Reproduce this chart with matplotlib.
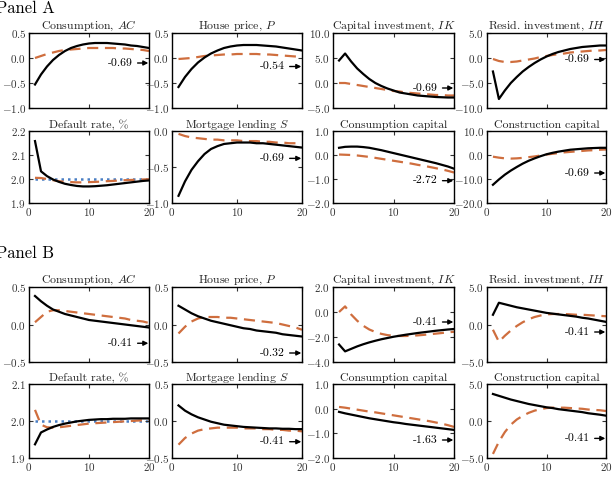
import numpy as np
import matplotlib
matplotlib.use("Agg")
import matplotlib.pyplot as plt
from matplotlib.ticker import FuncFormatter, FixedLocator

plt.rcParams['font.family'] = ['cmr10', 'DejaVu Serif']
plt.rcParams['mathtext.fontset'] = 'cm'
plt.rcParams['axes.unicode_minus'] = False

periods = list(range(1, 21))

titles = ["Consumption, $AC$", "House price, $P$", "Capital investment, $IK$",
          "Resid. investment, $IH$", "Default rate, %", "Mortgage lending $S$",
          "Consumption capital", "Construction capital"]

# ---------------- Panel A ----------------
a_solid = [
    [-0.53,-0.33,-0.17,-0.04,0.06,0.14,0.2,0.24,0.27,0.29,0.3,0.3,0.3,0.29,0.28,0.27,0.25,0.24,0.22,0.2],
    [-0.58,-0.38,-0.22,-0.09,0.01,0.09,0.15,0.2,0.23,0.25,0.26,0.26,0.26,0.25,0.24,0.23,0.21,0.19,0.17,0.15],
    [4.5,5.9,4.3,2.9,1.8,0.8,0.0,-0.6,-1.1,-1.5,-1.9,-2.1,-2.3,-2.5,-2.6,-2.7,-2.8,-2.85,-2.9,-2.9],
    [-2.7,-8.2,-6.5,-5.0,-3.8,-2.7,-1.8,-1.0,-0.3,0.3,0.8,1.2,1.5,1.8,2.0,2.2,2.3,2.4,2.5,2.5],
    [2.158,2.032,2.012,1.998,1.988,1.98,1.975,1.971,1.969,1.969,1.97,1.972,1.974,1.977,1.98,1.983,1.986,1.989,1.992,1.994],
    [-0.9,-0.7,-0.54,-0.42,-0.32,-0.25,-0.21,-0.18,-0.17,-0.16,-0.16,-0.16,-0.17,-0.17,-0.18,-0.19,-0.2,-0.21,-0.22,-0.23],
    [0.3,0.34,0.35,0.35,0.33,0.3,0.25,0.2,0.14,0.08,0.02,-0.04,-0.1,-0.16,-0.22,-0.28,-0.34,-0.41,-0.48,-0.57],
    [-12.4,-10.2,-8.2,-6.5,-5.0,-3.6,-2.4,-1.4,-0.5,0.3,0.9,1.4,1.8,2.2,2.4,2.6,2.8,2.9,3.0,3.0],
]
a_dashed = [
    [0.0,0.04,0.08,0.11,0.14,0.16,0.17,0.18,0.19,0.2,0.2,0.2,0.2,0.2,0.19,0.19,0.18,0.17,0.16,0.14],
    [-0.02,-0.01,0.0,0.02,0.04,0.05,0.06,0.07,0.07,0.08,0.08,0.08,0.08,0.07,0.07,0.06,0.05,0.04,0.03,0.02],
    [0.0,0.0,-0.2,-0.4,-0.6,-0.8,-1.0,-1.2,-1.4,-1.6,-1.7,-1.9,-2.0,-2.1,-2.2,-2.3,-2.4,-2.4,-2.5,-2.5],
    [-0.2,-0.6,-0.8,-0.8,-0.7,-0.5,-0.3,-0.1,0.2,0.4,0.6,0.8,0.9,1.1,1.2,1.3,1.4,1.5,1.5,1.6],
    [2.005,2.004,2.0,1.995,1.991,1.988,1.987,1.986,1.986,1.987,1.988,1.989,1.991,1.992,1.994,1.995,1.996,1.997,1.998,1.999],
    [-0.04,-0.07,-0.09,-0.1,-0.11,-0.12,-0.12,-0.13,-0.13,-0.13,-0.14,-0.14,-0.14,-0.15,-0.15,-0.16,-0.16,-0.17,-0.17,-0.18],
    [0.02,0.01,0.0,-0.02,-0.05,-0.08,-0.12,-0.16,-0.2,-0.24,-0.28,-0.32,-0.36,-0.41,-0.45,-0.5,-0.55,-0.6,-0.66,-0.73],
    [-0.7,-1.1,-1.4,-1.5,-1.4,-1.2,-0.9,-0.6,-0.2,0.2,0.5,0.8,1.1,1.3,1.5,1.7,1.9,2.0,2.2,2.3],
]
a_labels = ["-0.69", "-0.54", "-0.69", "-0.69", None, "-0.69", "-2.72", "-0.69"]
a_label_y = [-0.1, -0.17, -1.0, -0.3, None, -0.38, -1.07, -7.5]
a_ylims = [(-1.0, 0.5), (-1.0, 0.5), (-5, 10), (-10, 5), (1.9, 2.2), (-1.0, 0.0), (-2.0, 1.0), (-20, 10)]
a_yticks = [[-1.0, -0.5, 0.0, 0.5], [-1.0, -0.5, 0.0, 0.5], [-5, 0, 5, 10], [-10, -5, 0, 5],
            [1.9, 2.0, 2.1, 2.2], [-1.0, -0.5, 0.0], [-2, -1, 0, 1], [-20, -10, 0, 10]]

# ---------------- Panel B ----------------
b_solid = [
    [0.38,0.31,0.25,0.2,0.17,0.14,0.12,0.1,0.08,0.06,0.05,0.04,0.03,0.02,0.01,0.0,-0.01,-0.02,-0.03,-0.04],
    [0.25,0.2,0.15,0.11,0.08,0.05,0.03,0.01,-0.01,-0.03,-0.05,-0.06,-0.08,-0.09,-0.1,-0.11,-0.13,-0.14,-0.15,-0.16],
    [-2.6,-3.15,-2.95,-2.75,-2.58,-2.43,-2.3,-2.18,-2.08,-1.98,-1.9,-1.82,-1.75,-1.68,-1.62,-1.56,-1.5,-1.45,-1.4,-1.36],
    [1.3,2.9,2.7,2.5,2.3,2.15,2.0,1.85,1.7,1.55,1.45,1.35,1.25,1.15,1.05,0.9,0.8,0.65,0.5,0.35],
    [1.937,1.969,1.977,1.984,1.989,1.993,1.996,1.999,2.001,2.003,2.004,2.005,2.005,2.006,2.006,2.006,2.007,2.007,2.007,2.007],
    [0.21,0.14,0.09,0.05,0.02,-0.01,-0.03,-0.05,-0.06,-0.07,-0.08,-0.085,-0.09,-0.095,-0.1,-0.1,-0.105,-0.105,-0.11,-0.11],
    [-0.13,-0.19,-0.24,-0.29,-0.34,-0.39,-0.43,-0.47,-0.51,-0.55,-0.58,-0.62,-0.65,-0.68,-0.71,-0.74,-0.77,-0.8,-0.83,-0.86],
    [3.65,3.4,3.15,2.9,2.7,2.5,2.3,2.15,2.0,1.85,1.75,1.6,1.5,1.4,1.3,1.2,1.05,0.95,0.85,0.72],
]
b_dashed = [
    [0.03,0.1,0.17,0.19,0.19,0.18,0.17,0.16,0.15,0.14,0.13,0.12,0.11,0.1,0.09,0.08,0.06,0.05,0.04,0.02],
    [-0.12,-0.03,0.04,0.08,0.1,0.1,0.1,0.09,0.09,0.08,0.07,0.06,0.05,0.04,0.03,0.02,0.0,-0.02,-0.04,-0.07],
    [0.0,0.45,-0.2,-0.7,-1.1,-1.4,-1.6,-1.75,-1.85,-1.9,-1.92,-1.92,-1.9,-1.87,-1.83,-1.78,-1.73,-1.68,-1.63,-1.58],
    [-0.7,-2.3,-1.5,-0.8,-0.2,0.3,0.7,1.0,1.2,1.35,1.4,1.4,1.4,1.35,1.3,1.3,1.25,1.2,1.15,1.1],
    [2.03,1.99,1.983,1.982,1.983,1.985,1.987,1.989,1.991,1.993,1.994,1.995,1.996,1.997,1.998,1.999,2.0,2.001,2.002,2.003],
    [-0.32,-0.23,-0.17,-0.13,-0.11,-0.1,-0.09,-0.09,-0.09,-0.09,-0.1,-0.1,-0.1,-0.11,-0.11,-0.12,-0.12,-0.13,-0.13,-0.14],
    [0.07,0.04,0.0,-0.04,-0.08,-0.12,-0.15,-0.19,-0.23,-0.27,-0.31,-0.35,-0.39,-0.43,-0.47,-0.51,-0.56,-0.61,-0.67,-0.74],
    [-4.45,-2.8,-1.5,-0.5,0.2,0.7,1.1,1.4,1.6,1.75,1.8,1.8,1.8,1.75,1.7,1.65,1.55,1.5,1.45,1.35],
]
b_labels = ["-0.41", "-0.32", "-0.41", "-0.41", None, "-0.41", "-1.63", "-0.41"]
b_label_y = [-0.25, -0.38, -0.8, -1.0, None, -0.28, -1.27, -2.35]
b_ylims = [(-0.5, 0.5), (-0.5, 0.5), (-4, 2), (-5, 5), (1.9, 2.1), (-0.5, 0.5), (-2.0, 1.0), (-5, 5)]
b_yticks = [[-0.5, 0.0, 0.5], [-0.5, 0.0, 0.5], [-4, -2, 0, 2], [-5, 0, 5],
            [1.9, 2.0, 2.1], [-0.5, 0.0, 0.5], [-2, -1, 0, 1], [-5, 0, 5]]

steady_default = 2.0

ORANGE = "#cf6e3e"
BLUE = "#4a7fc4"

W, H = 614, 483
fig = plt.figure(figsize=(W / 100, H / 100), dpi=100)

cols = [(29, 149), (172, 302), (333, 454), (487, 606)]
rows_A = [(33, 108), (131, 203)]
rows_B = [(287, 362), (384, 458)]


def fmt(v, pos):
    s = f"{v:.1f}"
    return f"${s}$"


def make_panel(rows, solid, dashed, labels, label_y, ylims, yticks):
    for i in range(8):
        r, c = divmod(i, 4)
        x0, x1 = cols[c]
        y0, y1 = rows[r]
        ax = fig.add_axes([x0 / W, 1 - y1 / H, (x1 - x0) / W, (y1 - y0) / H])
        ax.plot(periods, solid[i], color="black", lw=1.6, zorder=3)
        ax.plot(periods, dashed[i], color=ORANGE, lw=1.6, ls=(0, (5, 3)), zorder=2)
        if i == 4:
            ax.plot(periods, [steady_default] * len(periods), color=BLUE, lw=1.8,
                    ls=(0, (1, 1.6)), zorder=1)
        ax.set_xlim(0, 20)
        ax.set_ylim(*ylims[i])
        ax.yaxis.set_major_locator(FixedLocator(yticks[i]))
        ax.yaxis.set_major_formatter(FuncFormatter(fmt))
        ax.xaxis.set_major_locator(FixedLocator([0, 10, 20]))
        ax.xaxis.set_major_formatter(FuncFormatter(lambda v, p: f"${int(v)}$"))
        ax.tick_params(direction="in", top=True, right=True, length=3, width=0.8,
                       labelsize=8, pad=2, colors="#333333", labelcolor="#333333")
        if r == 0:
            ax.tick_params(labelbottom=False)
        for sp in ax.spines.values():
            sp.set_linewidth(1.0)
        ax.set_title(titles[i], fontsize=8.5, pad=2, color="#222222")
        if labels[i] is not None:
            y = label_y[i]
            ax.text(17.3, y, labels[i], ha="right", va="center", fontsize=8.5)
            ax.annotate("", xy=(20, y), xytext=(18.1, y),
                        arrowprops=dict(arrowstyle="-|>", color="black", lw=1.0,
                                        mutation_scale=7, shrinkA=0, shrinkB=0.5))


make_panel(rows_A, a_solid, a_dashed, a_labels, a_label_y, a_ylims, a_yticks)
make_panel(rows_B, b_solid, b_dashed, b_labels, b_label_y, b_ylims, b_yticks)

fig.text(-0.006, 1 - 13 / H, "Panel A", fontsize=12, ha="left", va="baseline")
fig.text(-0.006, 1 - 258 / H, "Panel B", fontsize=12, ha="left", va="baseline")

fig.savefig("out.png", dpi=100)
